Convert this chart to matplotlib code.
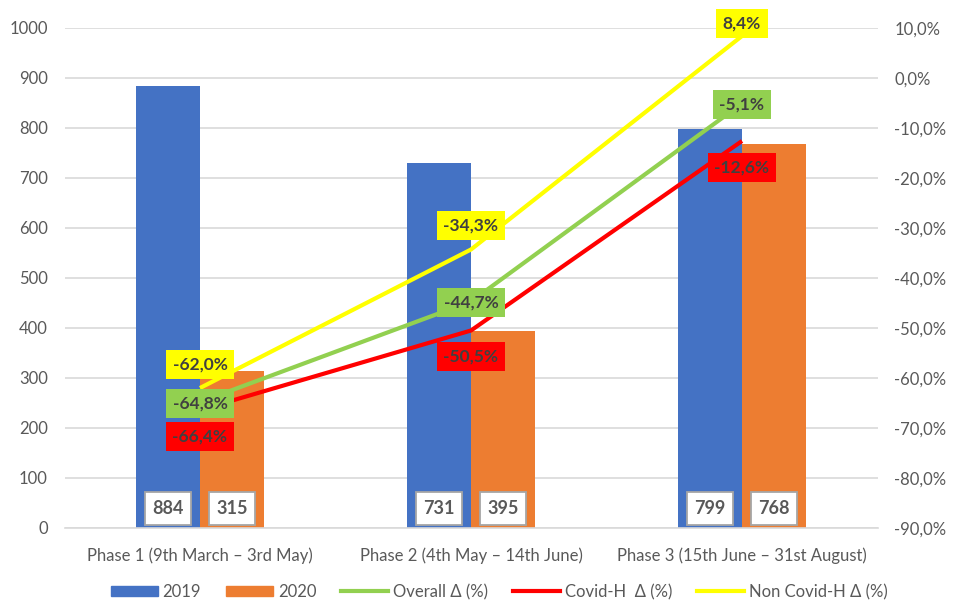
import matplotlib
matplotlib.use("Agg")
import matplotlib.pyplot as plt
from matplotlib.patches import Patch
from matplotlib.lines import Line2D
import numpy as np

plt.rcParams['font.family'] = ['Lato', 'DejaVu Sans']

categories = ["Phase 1 (9th March \u2013 3rd May)", "Phase 2 (4th May \u2013 14th June)",
              "Phase 3 (15th June \u2013 31st August)"]
v2019 = [884, 731, 799]
v2020 = [315, 395, 768]
overall = [-64.8, -44.7, -5.1]
covid = [-66.4, -50.5, -12.6]
noncovid = [-62.0, -34.3, 8.4]
left_ticks = list(range(0, 1001, 100))
right_ticks = list(range(-90, 11, 10))

C_BLUE = "#4472C4"
C_ORANGE = "#ED7D31"
C_GREEN = "#92D050"
C_RED = "#FF0000"
C_YELLOW = "#FFFF00"
TXT = "#595959"

fig = plt.figure(figsize=(9.58, 6.06), dpi=100)
ax = fig.add_axes([64.5/958, 1-528/606, (877.5-64.5)/958, 500/606])
x = np.arange(len(categories))
w = 0.236
ax.bar(x - w/2, v2019, w, color=C_BLUE, zorder=2)
ax.bar(x + w/2, v2020, w, color=C_ORANGE, zorder=2)
ax.set_xlim(-0.5, 2.5)
ax.set_ylim(0, 1000)
ax.set_yticks(left_ticks)
ax.yaxis.grid(True, color="#D9D9D9", linewidth=1.2, zorder=0)
ax.set_axisbelow(True)
ax.set_xticks(x)
ax.set_xticklabels(categories)
ax.tick_params(axis='both', length=0, labelsize=12, colors=TXT)
ax.tick_params(axis='x', pad=14)
ax.tick_params(axis='y', pad=12)
for s in ['top', 'right', 'left']:
    ax.spines[s].set_visible(False)
ax.spines['bottom'].set_color("#D9D9D9")
ax.spines['bottom'].set_linewidth(1.2)

def vlabel(xi, v):
    ax.annotate(str(v), (xi, 0), xytext=(0, 14), textcoords='offset points', ha='center', va='center',
                fontsize=13, fontweight='bold', color=TXT,
                bbox=dict(boxstyle='square,pad=0.42', fc='white', ec='#A6A6A6', lw=1.3), zorder=5)

for xi, v in zip(x - w/2, v2019):
    vlabel(xi, v)
for xi, v in zip(x + w/2, v2020):
    vlabel(xi, v)

ax2 = ax.twinx()
ax2.set_ylim(-90, 10)
ax2.set_yticks(right_ticks)
ax2.set_yticklabels([f"{t:.1f}%".replace('.', ',') for t in right_ticks])
ax2.tick_params(axis='y', length=0, labelsize=12, colors=TXT, pad=12)
for s in ['top', 'right', 'left', 'bottom']:
    ax2.spines[s].set_visible(False)

ax2.plot(x, noncovid, color=C_YELLOW, lw=3, zorder=3, solid_capstyle='butt')
ax2.plot(x, overall, color=C_GREEN, lw=3, zorder=3, solid_capstyle='butt')
ax2.plot(x, covid, color=C_RED, lw=3, zorder=3, solid_capstyle='butt')

def fmt(v):
    return f"{v:.1f}%".replace('.', ',')

def lab(xi, v, color, dy):
    ax2.annotate(fmt(v), (xi, v), xytext=(0, dy), textcoords='offset points', ha='center', va='center',
                 fontsize=12.5, fontweight='bold', color="#404040",
                 bbox=dict(boxstyle='square,pad=0.38', fc=color, ec='none'), zorder=6)

yellow_dy = [17, 17, 9]
for xi, v, d in zip(x, noncovid, yellow_dy):
    lab(xi, v, C_YELLOW, d)
for xi, v in zip(x, overall):
    lab(xi, v, C_GREEN, -1)
for xi, v in zip(x, covid):
    lab(xi, v, C_RED, -19)

handles = [Patch(color=C_BLUE, label='2019'), Patch(color=C_ORANGE, label='2020'),
           Line2D([], [], color=C_GREEN, lw=3, label='Overall \u0394 (%)'),
           Line2D([], [], color=C_RED, lw=3, label='Covid-H  \u0394 (%)'),
           Line2D([], [], color=C_YELLOW, lw=3, label='Non Covid-H \u0394 (%)')]
leg = fig.legend(handles=handles, loc='center', bbox_to_anchor=(0.521, 1-592/606), ncol=5, frameon=False,
                 fontsize=12, handlelength=2.8, handleheight=0.6, columnspacing=1.5, handletextpad=0.3)
for t in leg.get_texts():
    t.set_color(TXT)

fig.savefig("out.png", dpi=100)
